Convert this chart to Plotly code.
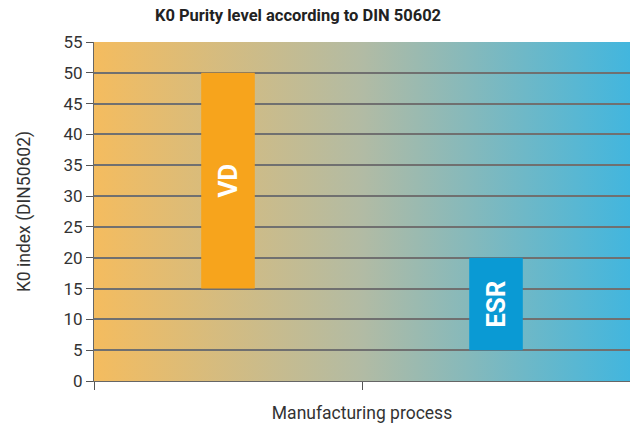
import base64
import plotly.graph_objects as go

# Data
categories = ["VD", "ESR"]
k0_low = [15, 5]
k0_high = [50, 20]
bar_colors = ["#F7A41C", "#0A9AD4"]
y_ticks = [0, 5, 10, 15, 20, 25, 30, 35, 40, 45, 50, 55]

title_text = "<b>K0 Purity level according to DIN 50602</b>"
x_title = "Manufacturing process"
y_title = "K0 index (DIN50602)"

FONT = "Roboto, Liberation Sans Narrow, sans-serif"

# category positions on a numeric axis (one slot per category)
x_pos = list(range(len(categories)))
x_boundaries = [p - 0.5 for p in x_pos]  # tick marks between categories

# gradient background for the plot area (SVG data URI)
svg = (
    '<svg xmlns="http://www.w3.org/2000/svg" width="100" height="100" preserveAspectRatio="none">'
    '<defs><linearGradient id="g" x1="0" y1="0" x2="1" y2="0">'
    '<stop offset="0" stop-color="#F4BC5F"/>'
    '<stop offset="0.5" stop-color="#B2BBA4"/>'
    '<stop offset="1" stop-color="#42B6DE"/>'
    '</linearGradient></defs>'
    '<rect width="100" height="100" fill="url(#g)"/></svg>'
)
svg_uri = "data:image/svg+xml;base64," + base64.b64encode(svg.encode()).decode()

fig = go.Figure()
fig.add_trace(go.Bar(
    x=x_pos,
    y=[h - l for h, l in zip(k0_high, k0_low)],
    base=k0_low,
    marker=dict(color=bar_colors, line=dict(width=0)),
    width=0.2,
    text=categories,
    textposition="inside",
    insidetextanchor="middle",
    textangle=-90,
    textfont=dict(family=FONT, size=26, color="white", weight="bold"),
    hoverinfo="skip",
))

fig.update_layout(
    width=631, height=423,
    margin=dict(l=94, r=1, t=42, b=42),
    paper_bgcolor="white",
    plot_bgcolor="rgba(0,0,0,0)",
    showlegend=False,
    font=dict(family=FONT, size=16, color="#333333"),
    title=dict(
        text=title_text,
        x=298 / 631, xanchor="center",
        y=1 - 15 / 423, yanchor="middle",
        font=dict(family=FONT, size=16.5, color="#222222"),
    ),
    images=[dict(
        source=svg_uri, xref="paper", yref="paper",
        x=0, y=1, sizex=1, sizey=1, sizing="stretch",
        xanchor="left", yanchor="top", layer="below",
    )],
)

fig.update_xaxes(
    range=[x_pos[0] - 0.5, x_pos[-1] + 0.5],
    tickvals=x_boundaries,
    showticklabels=False,
    ticks="outside", ticklen=8, tickcolor="#555555", tickwidth=1,
    showgrid=False, zeroline=False,
    showline=True, linecolor="#666666", linewidth=1,
    title=dict(text=x_title, standoff=22, font=dict(size=17.5)),
)
fig.update_yaxes(
    range=[0, 55],
    tickvals=y_ticks,
    ticks="outside", ticklen=7, tickcolor="#555555", tickwidth=1,
    showgrid=True, gridcolor="#707070", gridwidth=1.5,
    showline=True, linecolor="#666666", linewidth=1,
    zeroline=False,
    tickfont=dict(size=17),
    title=dict(text=y_title, standoff=28, font=dict(size=17.5)),
)

fig.write_html(
    "out.html",
    config={"displayModeBar": False},
    post_script="document.body.style.margin='0';",
)
